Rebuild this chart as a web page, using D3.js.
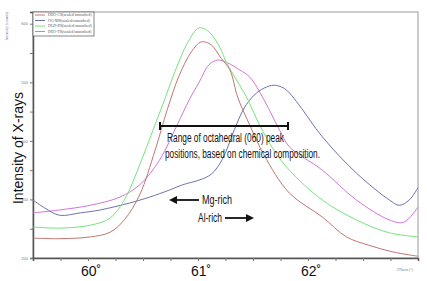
<!DOCTYPE html>
<html>
<head>
<meta charset="utf-8">
<script src="https://cdn.jsdelivr.net/npm/d3@7"></script>
<style>
  html, body { margin: 0; padding: 0; background: #fff; }
  svg { display: block; }
</style>
</head>
<body>
<div id="chart"></div>
<script>
// XRD (060) peak region, four smoothed scans

const seriesNames = [
  "DEO-C8(scaled/smoothed)",
  "OG-M8(scaled/smoothed)",
  "DLD-D8(scaled/smoothed)",
  "DEO-T8(scaled/smoothed)"
];

// [2theta, counts]
const deoC8 = [
  [59.50, 234], [59.74, 233], [60.02, 236], [60.20, 244], [60.33, 265], [60.47, 308],
  [60.61, 384], [60.72, 453], [60.83, 512], [60.94, 552], [61.03, 569], [61.12, 564],
  [61.21, 541], [61.29, 521], [61.36, 475], [61.47, 427], [61.60, 376], [61.83, 311],
  [62.13, 270], [62.35, 236], [62.55, 222], [62.78, 210], [63.00, 203]
];
const ogM8 = [
  [59.50, 299], [59.61, 285], [59.74, 273], [59.93, 277], [60.11, 282], [60.38, 294],
  [60.56, 304], [60.74, 316], [60.86, 325], [61.01, 333], [61.12, 343], [61.22, 368],
  [61.33, 419], [61.42, 456], [61.51, 478], [61.60, 490], [61.69, 495], [61.78, 490],
  [61.83, 482], [61.92, 461], [62.13, 407], [62.44, 345], [62.74, 299], [62.83, 290],
  [62.92, 299], [63.00, 320]
];
const dldD8 = [
  [59.50, 253], [59.74, 251], [60.02, 256], [60.20, 268], [60.33, 299], [60.47, 359],
  [60.59, 418], [60.68, 462], [60.79, 518], [60.91, 569], [61.01, 593], [61.10, 586],
  [61.20, 559], [61.26, 533], [61.35, 504], [61.44, 475], [61.56, 427], [61.69, 384],
  [61.83, 350], [62.13, 299], [62.44, 265], [62.74, 243], [63.00, 236]
];
const deoT8 = [
  [59.50, 277], [59.74, 282], [60.02, 290], [60.29, 304], [60.47, 325], [60.65, 367],
  [60.81, 427], [60.92, 470], [61.01, 500], [61.10, 530], [61.18, 538], [61.27, 533],
  [61.38, 521], [61.47, 509], [61.60, 470], [61.74, 419], [61.83, 390], [62.13, 350],
  [62.44, 299], [62.74, 265], [62.87, 261], [63.00, 287]
];

const yTicks = [200, 300, 400, 500, 600];
const xLabels = [60, 61, 62];

const width = 427, height = 281;
const margin = { top: 12, right: 9, bottom: 23, left: 33 };
const narrow = "'Liberation Sans Narrow', 'Arial Narrow', sans-serif";

const svg = d3.select("#chart").append("svg")
  .attr("width", width).attr("height", height);

const x = d3.scaleLinear().domain([59.5, 63.0]).range([margin.left, width - margin.right]);
const y = d3.scaleLinear().domain([200, 620]).range([height - margin.bottom, margin.top]);

// frame
svg.append("rect")
  .attr("x", margin.left).attr("y", margin.top)
  .attr("width", width - margin.left - margin.right)
  .attr("height", height - margin.top - margin.bottom)
  .attr("fill", "none").attr("stroke", "#999").attr("stroke-width", 1);

// y axis
const yAxis = svg.append("g")
  .attr("transform", `translate(${margin.left},0)`)
  .call(d3.axisLeft(y).tickValues(d3.range(200, 601, 50)).tickSize(3)
    .tickFormat(d => yTicks.includes(d) ? d : ""));
yAxis.select(".domain").attr("stroke", "#555").attr("stroke-width", 1.5);
yAxis.selectAll(".tick line").attr("stroke", "#777");
yAxis.selectAll("text").style("font-size", "4px").attr("fill", "#777").attr("x", -5);

// x axis
const xAxis = svg.append("g")
  .attr("transform", `translate(0,${height - margin.bottom})`)
  .call(d3.axisBottom(x).tickValues(d3.range(59.75, 62.8, 0.25)).tickSize(3).tickFormat(""));
xAxis.select(".domain").attr("stroke", "#555").attr("stroke-width", 1.5);
xAxis.selectAll(".tick line").attr("stroke", "#777");

svg.selectAll(".xlab").data(xLabels).enter().append("text")
  .attr("x", d => x(d) + 3).attr("y", 276)
  .attr("text-anchor", "middle")
  .style("font-family", narrow).style("font-size", "14px").attr("fill", "#111")
  .text(d => d + "˚");

svg.append("text").attr("x", 405).attr("y", 271).attr("text-anchor", "middle")
  .style("font-size", "4px").attr("fill", "#777").text("2Theta (°)");

svg.append("text").attr("transform", "translate(8,26) rotate(-90)")
  .attr("text-anchor", "middle").style("font-size", "4px").attr("fill", "#777")
  .text("Intensity (counts)");

svg.append("text").attr("transform", "translate(23,148) rotate(-90)")
  .attr("text-anchor", "middle")
  .style("font-family", "'Liberation Sans', Arial, sans-serif").style("font-size", "14px")
  .attr("fill", "#111").text("Intensity of X-rays");

// curves
const colors = ["#c07672", "#7072ae", "#76e27c", "#d276da"];
const allSeries = [deoC8, ogM8, dldD8, deoT8];
const line = d3.line().x(d => x(d[0])).y(d => y(d[1])).curve(d3.curveCatmullRom.alpha(0.5));

const plot = svg.append("g");
[3, 1, 2, 0].forEach(i => {
  plot.append("path").datum(allSeries[i])
    .attr("d", line).attr("fill", "none")
    .attr("stroke", colors[i]).attr("stroke-width", 1);
});

// legend
const leg = svg.append("g");
leg.append("rect").attr("x", 33).attr("y", 12).attr("width", 61).attr("height", 24)
  .attr("fill", "#fff").attr("stroke", "#666").attr("stroke-width", 0.8);
seriesNames.forEach((n, i) => {
  const ly = 15 + i * 5.5;
  leg.append("line").attr("x1", 35).attr("x2", 45).attr("y1", ly).attr("y2", ly)
    .attr("stroke", colors[i]).attr("stroke-width", 1);
  leg.append("text").attr("x", 48).attr("y", ly + 1.3)
    .style("font-size", "4px").attr("fill", "#555").text(n);
});

// annotations
const ann = svg.append("g").attr("stroke", "#111").attr("fill", "#111");
ann.append("line").attr("x1", 160).attr("x2", 288).attr("y1", 126).attr("y2", 126).attr("stroke-width", 2);
ann.append("line").attr("x1", 160).attr("x2", 160).attr("y1", 122).attr("y2", 130).attr("stroke-width", 2);
ann.append("line").attr("x1", 288).attr("x2", 288).attr("y1", 122).attr("y2", 130).attr("stroke-width", 2);

// Mg-rich arrow (left)
ann.append("line").attr("x1", 176).attr("x2", 199).attr("y1", 200).attr("y2", 200).attr("stroke-width", 1.8);
ann.append("path").attr("d", "M169,200 L177,196 L177,204 Z").attr("stroke", "none");
// Al-rich arrow (right)
ann.append("line").attr("x1", 225).attr("x2", 247).attr("y1", 218).attr("y2", 218).attr("stroke-width", 1.8);
ann.append("path").attr("d", "M254,218 L246,214 L246,222 Z").attr("stroke", "none");

const txt = svg.append("g").style("font-family", narrow).attr("fill", "#111");
txt.append("text").attr("x", 167).attr("y", 142).style("font-size", "12px")
  .attr("textLength", 117).attr("lengthAdjust", "spacingAndGlyphs")
  .text("Range of octahedral (060) peak");
txt.append("text").attr("x", 165).attr("y", 158).style("font-size", "12px")
  .attr("textLength", 155).attr("lengthAdjust", "spacingAndGlyphs")
  .text("positions, based on chemical composition.");
txt.append("text").attr("x", 202).attr("y", 204).style("font-size", "12px")
  .attr("textLength", 30).attr("lengthAdjust", "spacingAndGlyphs").text("Mg-rich");
txt.append("text").attr("x", 198).attr("y", 222).style("font-size", "12px")
  .attr("textLength", 24).attr("lengthAdjust", "spacingAndGlyphs").text("Al-rich");
</script>
</body>
</html>
